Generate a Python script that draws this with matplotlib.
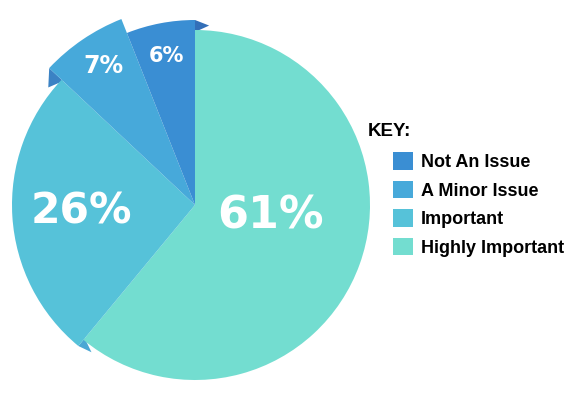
import matplotlib
matplotlib.use("Agg")
import matplotlib.pyplot as plt
import numpy as np
from matplotlib.patches import Polygon

# data
labels = ["Highly Important", "Important", "A Minor Issue", "Not An Issue"]
values = [61, 26, 7, 6]
pct_text = ["61%", "26%", "7%", "6%"]

# styling
colors = ["#73DDD0", "#56C2D9", "#47A9DA", "#3A8ED3"]
side_colors = ["#73DDD0", "#4BA7D4", "#3B82C4", "#336FB8"]
radii = [175, 183, 200, 185]
W, H = 574, 399
center = (195, H - 205)

fig = plt.figure(figsize=(W / 100, H / 100), dpi=100)
fig.patch.set_facecolor("white")
ax = fig.add_axes([0, 0, 1, 1])

wedges, _ = ax.pie(values, colors=colors, startangle=90, counterclock=False,
                   center=center, radius=175, wedgeprops=dict(linewidth=0))
for w, r in zip(wedges, radii):
    w.set_radius(r)
    w.set_zorder(2)


def pt(ang, r):
    a = np.deg2rad(ang)
    return (center[0] + r * np.cos(a), center[1] + r * np.sin(a))


# small darker "side faces" where a taller slice meets a lower neighbour
# (slice index, neighbour index, boundary angle, direction into neighbour)
faces = [(3, 0, wedges[3].theta1, -1), (2, 1, wedges[2].theta2, 1),
         (1, 0, wedges[1].theta2, 1)]
for i, j, ang, d in faces:
    tri = [pt(ang, radii[i]), pt(ang + d * 4.5, radii[j] + 5), pt(ang, radii[j] - 2)]
    ax.add_patch(Polygon(tri, closed=True, facecolor=side_colors[i],
                         linewidth=0, zorder=1))

# percent labels (image pixel positions)
label_pos = [(271, 216), (81, 211), (103, 66), (166, 56)]
label_size = [32, 30.5, 17, 15]
for t, (x, y), s in zip(pct_text, label_pos, label_size):
    ax.text(x, H - y, t, color="white", fontsize=s, fontweight="bold",
            family="DejaVu Sans", ha="center", va="center", zorder=5)

ax.set_xlim(0, W)
ax.set_ylim(0, H)
ax.set_aspect("equal")
ax.axis("off")

# key
ax.text(368, H - 131.5, "KEY:", fontsize=13.5, fontweight="bold",
        family="Liberation Sans", ha="left", va="center", color="black")
leg = ax.legend(wedges[::-1], labels[::-1], loc="upper left",
                bbox_to_anchor=(393 / W, 1 - 152.5 / H), bbox_transform=fig.transFigure,
                frameon=False, borderpad=0, borderaxespad=0,
                handlelength=1.11, handleheight=1.11, handletextpad=0.45,
                labelspacing=0.53,
                prop=dict(family="Liberation Sans", weight="bold", size=13))

fig.savefig("out.png", dpi=100, facecolor="white")
